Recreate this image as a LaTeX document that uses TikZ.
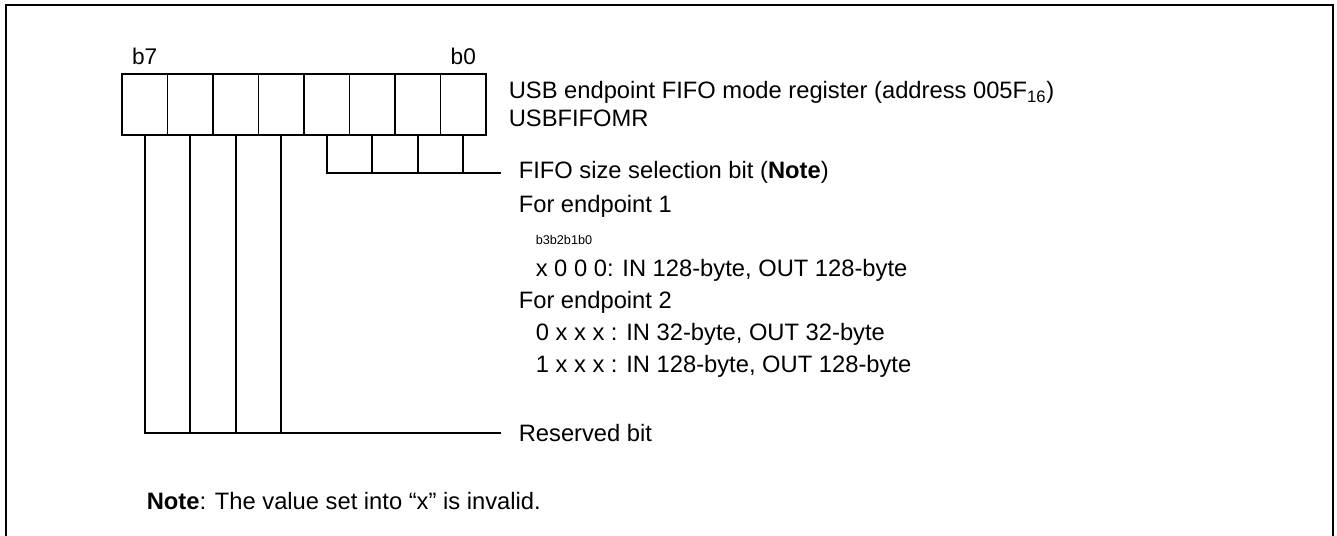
\documentclass[tikz,border=0pt]{standalone}
\usepackage{fontspec}
\setmainfont{Liberation Sans}

\begin{document}
\begin{tikzpicture}[x=0.75pt,y=-0.75pt,line width=1.2pt,
    bitcell/.style={draw,minimum width=34.125pt,minimum height=45.75pt,inner sep=0pt},
    txt/.style={anchor=base west,inner sep=0pt,font=\fontsize{17.8}{21}\selectfont},
    tiny/.style={anchor=base west,inner sep=0pt,font=\fontsize{9.5}{11}\selectfont},
    lead/.style={anchor=west,inner ysep=0pt,inner xsep=12.75pt,font=\fontsize{17.8}{21}\selectfont}]
  \useasboundingbox (0,0) rectangle (1337,535);
  \draw [line width=1.5pt] (6,545) -- (6,5) -- (1333,5) -- (1333,545);
  % register cells b7 ... b0
  \foreach \i in {0,...,7}
    \node [bitcell] (c\i) at ({122+45.5*(7-\i)+22.75},104.5) {};
  \node [anchor=base,inner sep=0pt,font=\fontsize{17}{20}\selectfont] (hb7) at ([yshift=6.75pt]c7.north) {b7};
  \node [anchor=base,inner sep=0pt,font=\fontsize{17}{20}\selectfont] (hb0) at ([yshift=6.75pt]c0.north) {b0};
  \node [txt] (title) at (508,98.5) {USB endpoint FIFO mode register (address 005F\textsubscript{16})};
  \node [txt] (regname) at (508,126.5) {USBFIFOMR};
  % bit descriptions
  \node [lead] (fifo) at (501,172.7) {FIFO size selection bit (\textbf{Note})};
  \node [txt] (ep1) at (518,212) {For endpoint 1};
  \node [tiny] (bits) at (535,244) {b3b2b1b0};
  \node [txt] (ep1a) at (535,276) {x 0 0 0: IN 128-byte, OUT 128-byte};
  \node [txt] (ep2) at (518,308) {For endpoint 2};
  \node [txt] (ep2a) at (535,340) {0 x x x : IN 32-byte, OUT 32-byte};
  \node [txt] (ep2b) at (535,372) {1 x x x : IN 128-byte, OUT 128-byte};
  \node [lead] (resv) at (501,433) {Reserved bit};
  \draw (c3.south) |- (fifo.west);
  \foreach \i in {0,1,2}
    \draw (c\i.south) -- (c\i.south |- fifo.west);
  \draw (c7.south) |- (resv.west);
  \foreach \i in {4,5,6}
    \draw (c\i.south) -- (c\i.south |- resv.west);
  \node [txt] (note) at (146,509) {\textbf{Note}: The value set into “x” is invalid.};
\end{tikzpicture}
\end{document}
